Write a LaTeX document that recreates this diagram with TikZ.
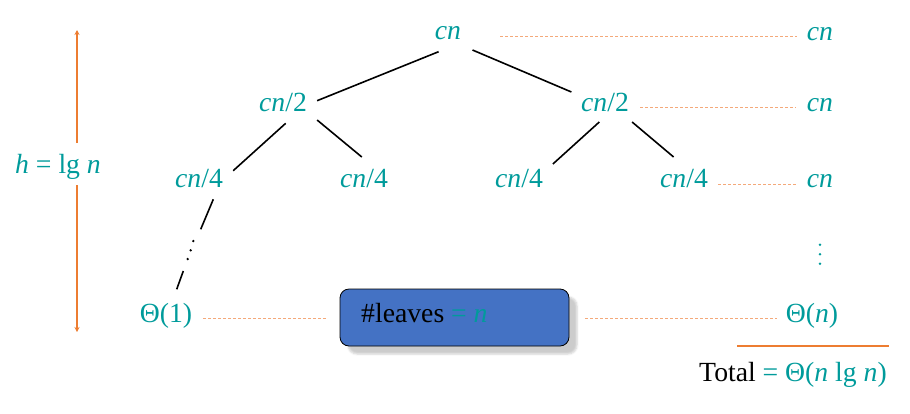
\documentclass[tikz,border=0pt]{standalone}
\usepackage{fontspec}
\setmainfont{Liberation Serif}
\usetikzlibrary{arrows.meta,shadows.blur}
\definecolor{teal}{HTML}{009B9B}
\definecolor{orng}{HTML}{ED7D31}
\definecolor{lorng}{HTML}{F4A97A}
\definecolor{boxblue}{HTML}{4472C4}
\begin{document}
\begin{tikzpicture}[x=1pt,y=-1pt,
  lbl/.style={text=teal,anchor=base,inner sep=0pt,font=\fontsize{27.7}{30}\selectfont},
  tedge/.style={draw=black,line width=1.6pt},
  guide/.style={draw=lorng,line width=1pt,dash pattern=on 3pt off 2pt},
  harrow/.style={draw=orng,line width=2pt,-{Stealth[length=5pt,width=5pt]}},
  dotc/.style={circle,fill=#1,inner sep=0pt,minimum size=2.8pt}]
\useasboundingbox (0,0) rectangle (910,413);
% tree labels
\node[lbl] (r) at (448,39.5) {\textit{cn}};
\node[lbl] (l) at (283,111.5) {\textit{cn}/2};
\node[lbl] (rr) at (605,111.5) {\textit{cn}/2};
\node[lbl] (ll1) at (199,187) {\textit{cn}/4};
\node[lbl] (ll2) at (364,187) {\textit{cn}/4};
\node[lbl] (rl1) at (519,187) {\textit{cn}/4};
\node[lbl] (rl2) at (684,187) {\textit{cn}/4};
\node[lbl] (t1) at (166,322) {Θ(1)};
% right column
\node[lbl] (c1) at (820,40) {\textit{cn}};
\node[lbl] (c2) at (820,111.5) {\textit{cn}};
\node[lbl] (c3) at (820,187) {\textit{cn}};
\node[lbl] (tn) at (812,322) {Θ(\textit{n})};
\node[lbl] (tot) at (793,381) {\textcolor{black}{Total} = Θ(\textit{n} lg \textit{n})};
\node[dotc=teal] (v1) at (820,244.7) {};
\node[dotc=teal] (v2) at (820,254.2) {};
\node[dotc=teal] (v3) at (820,263.7) {};
% height label
\node[lbl] (h) at (58,173) {\textit{h} = lg \textit{n}};
% box
\node[draw=black,line width=0.8pt,fill=boxblue,rounded corners=9pt,
  minimum width=229pt,minimum height=57pt,inner sep=0pt,
  blur shadow={shadow xshift=8pt,shadow yshift=-8pt,shadow blur steps=4,shadow blur radius=2pt,shadow opacity=20}]
  (box) at (454.5,317.5) {};
\node[lbl,anchor=base west] (lv) at (361,322) {\textcolor{black}{\#leaves} = \textit{n}};
% tree edges
\coordinate (a1) at (438.6,51.7); \coordinate (a2) at (317.1,100.7);
\coordinate (b1) at (472.5,50); \coordinate (b2) at (571.4,92);
\coordinate (c1a) at (285.7,123.3); \coordinate (c1b) at (233.2,170.7);
\coordinate (d1) at (317.1,120); \coordinate (d2) at (361.8,157);
\coordinate (e1) at (599.3,122); \coordinate (e2) at (552.9,164);
\coordinate (f1) at (632.1,122); \coordinate (f2) at (673.6,157);
\draw[tedge] (a1) -- (a2);
\draw[tedge] (b1) -- (b2);
\draw[tedge] (c1a) -- (c1b);
\draw[tedge] (d1) -- (d2);
\draw[tedge] (e1) -- (e2);
\draw[tedge] (f1) -- (f2);
% dotted descent
\coordinate (g1) at (213.3,199.3); \coordinate (g2) at (200.7,229.3);
\coordinate (g3) at (183.3,271); \coordinate (g4) at (176.7,289.3);
\draw[tedge] (g1) -- (g2);
\draw[tedge] (g3) -- (g4);
\node[dotc=black,minimum size=2.6pt] (p1) at (193.3,241) {};
\node[dotc=black,minimum size=2.6pt] (p2) at (190.7,250.3) {};
\node[dotc=black,minimum size=2.6pt] (p3) at (187.7,259) {};
% guide lines
\coordinate (h1a) at (500,36.5); \coordinate (h1b) at (797,36.5);
\coordinate (h2a) at (640,107); \coordinate (h2b) at (796,107);
\coordinate (h3a) at (718,184); \coordinate (h3b) at (797,184);
\coordinate (h4a) at (203,318.5); \coordinate (h4b) at (327,318.5);
\coordinate (h5a) at (585,318.5); \coordinate (h5b) at (777,318.5);
\draw[guide] (h1a) -- (h1b);
\draw[guide] (h2a) -- (h2b);
\draw[guide] (h3a) -- (h3b);
\draw[guide] (h4a) -- (h4b);
\draw[guide] (h5a) -- (h5b);
% total rule
\coordinate (s1) at (737,346); \coordinate (s2) at (889,346);
\draw[draw=orng,line width=2.6pt] (s1) -- (s2);
% height arrow
\coordinate (ht) at (77,30); \coordinate (hu) at (77,143);
\coordinate (hd) at (77,185); \coordinate (hb) at (77,332);
\draw[harrow] (hu) -- (ht);
\draw[harrow] (hd) -- (hb);
\end{tikzpicture}
\end{document}
